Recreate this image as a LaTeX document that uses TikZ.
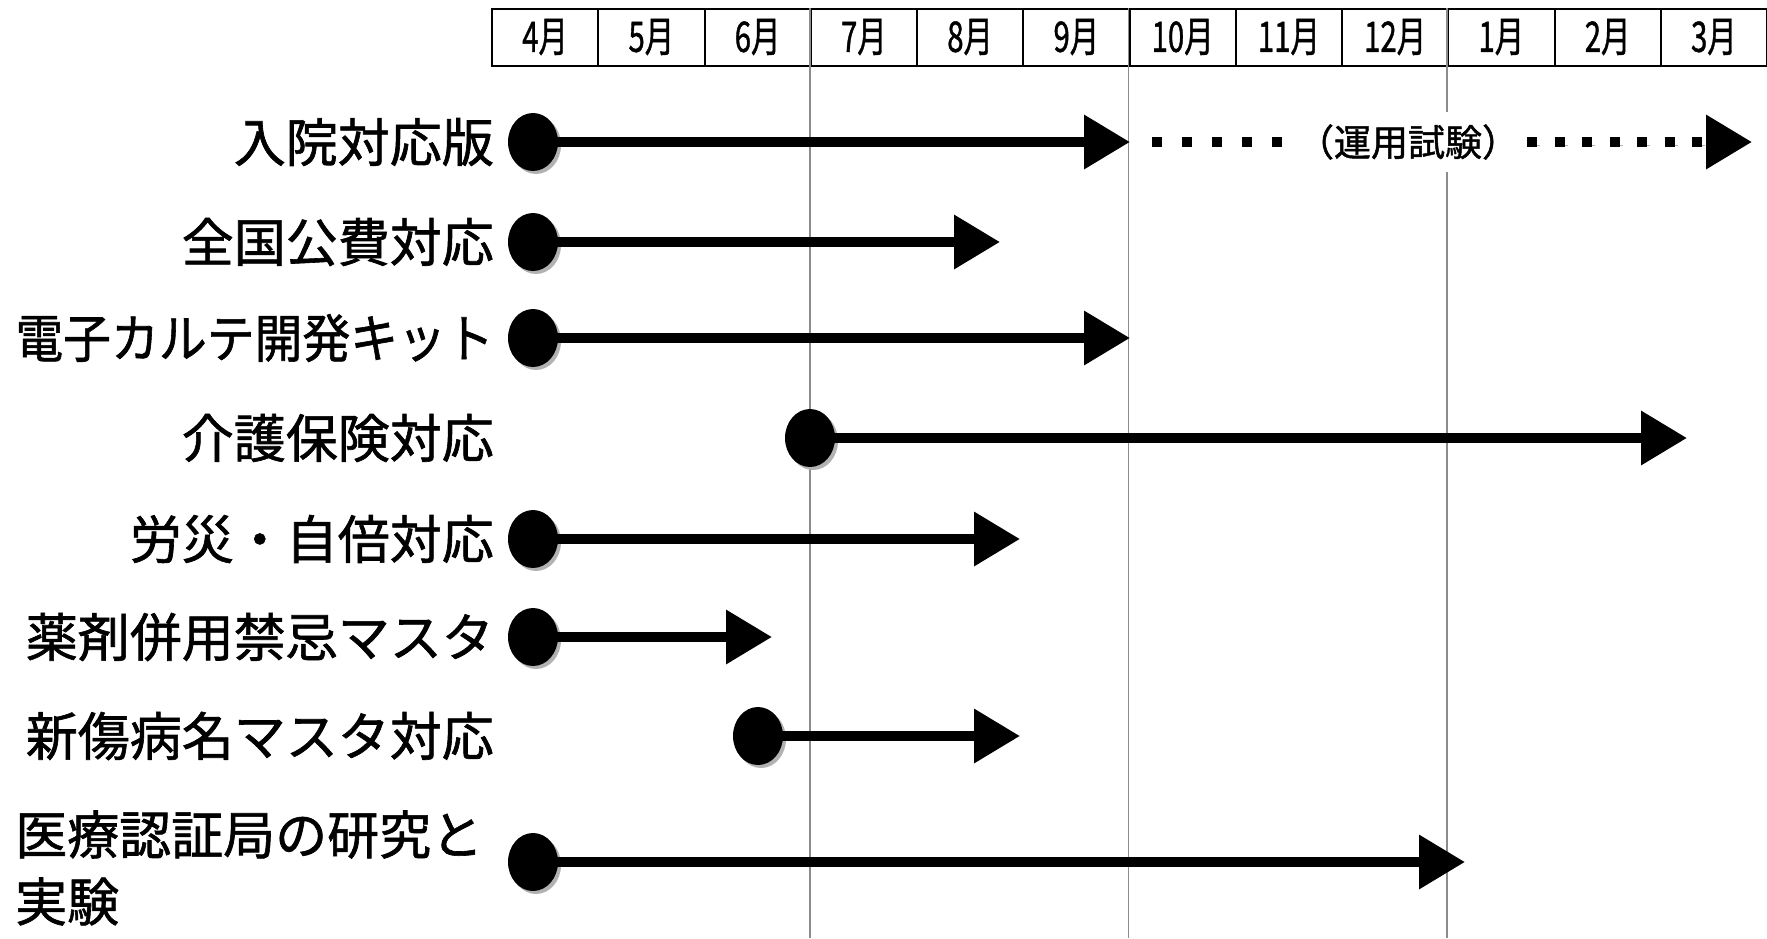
\documentclass[tikz,border=0pt]{standalone}
\usepackage{fontspec}
\setmainfont{Noto Sans CJK JP}
\newfontfamily\labfont[FakeBold=1.2]{Noto Sans CJK JP}
\usepackage{graphicx}
\usetikzlibrary{arrows.meta,shapes.geometric}
\begin{document}
\begin{tikzpicture}[x=1pt,y=-1pt,
  cell/.style={draw=black, line width=2pt, minimum width=106.25pt, minimum height=57pt, inner sep=0pt, font=\labfont\fontsize{42}{42}\selectfont},
  gridline/.style={draw=black!45, line width=1.6pt},
  lab/.style={anchor=east, inner sep=0pt, font=\labfont\fontsize{52}{67}\selectfont},
  dot/.style={ellipse, fill=black, minimum width=50pt, minimum height=58pt, inner sep=0pt,
    preaction={fill=black!30, transform canvas={shift={(3pt,-3pt)}}}},
  arr/.style={line width=10pt, -{Triangle[length=46pt,width=52pt]}, shorten <=-3pt,
    preaction={draw=black!30, transform canvas={shift={(3pt,-3pt)}}}},
  dotl/.style={line width=10pt, dash pattern=on 10pt off 20pt},
  optxt/.style={fill=white, inner xsep=10pt, inner ysep=12pt, font=\labfont\fontsize{37}{37}\selectfont}
]
\useasboundingbox (0,0) rectangle (1767,938);
\fill[white] (0,0) rectangle (1767,938);
\coordinate (bot) at (0,938);

% header
\foreach \m [count=\i] in {4,5,6,7,8,9,10,11,12,1,2,3}
  \node[cell] (m\i) at ({492+106.25*(\i-0.5)},37) {\scalebox{0.7}[1]{\m 月}};
\draw[gridline] (m4.north west) -- (m4.north west |- bot);
\draw[gridline] (m7.north west) -- (m7.north west |- bot);
\draw[gridline] (m10.north west) -- (m10.north west |- bot);

% labels
\node[lab] (l1) at (494,142) {入院対応版};
\node[lab] (l2) at (494,242) {全国公費対応};
\node[lab] (l3) at (494,338) {\scalebox{0.92}[1]{電子カルテ開発キット}};
\node[lab] (l4) at (494,438) {介護保険対応};
\node[lab] (l5) at (494,539) {労災・自倍対応};
\node[lab] (l6) at (494,637) {薬剤併用禁忌マスタ};
\node[lab] (l7) at (494,736) {新傷病名マスタ対応};
\node[anchor=west, align=left, inner sep=0pt, font=\labfont\fontsize{52}{67}\selectfont] (l8) at (15,868) {医療認証局の研究と\\実験};

% row 1
\coordinate (e1) at (1130,142);
\coordinate (d1) at (1152,142);
\coordinate (d2) at (1283,142);
\coordinate (d3) at (1527,142);
\coordinate (f1) at (1752,142);
\node[optxt] (op) at (1408,142) {（運用試験）};
\draw[dotl] (d1) -- (d2);
\draw[line width=10pt, dash pattern=on 10pt off 17.5pt, -{Triangle[length=46pt,width=52pt]}, preaction={draw=black!30, dash pattern=on 10pt off 17.5pt, transform canvas={shift={(3pt,-3pt)}}}] (d3) -- (f1);

\coordinate (e2) at (1000,242);
\coordinate (e3) at (1130,338);
\coordinate (e4) at (1687,438);
\coordinate (e5) at (1020,539);
\coordinate (e6) at (772,637);
\coordinate (e7) at (1020,736);
\coordinate (e8) at (1465,862);

\node[dot] (s1) at (533,142) {};
\node[dot] (s2) at (533,242) {};
\node[dot] (s3) at (533,338) {};
\node[dot] (s4) at (810,438) {};
\node[dot] (s5) at (533,539) {};
\node[dot] (s6) at (533,637) {};
\node[dot] (s7) at (758,736) {};
\node[dot] (s8) at (533,862) {};

\foreach \i in {1,...,8} \draw[arr] (s\i) -- (e\i);
\end{tikzpicture}
\end{document}
